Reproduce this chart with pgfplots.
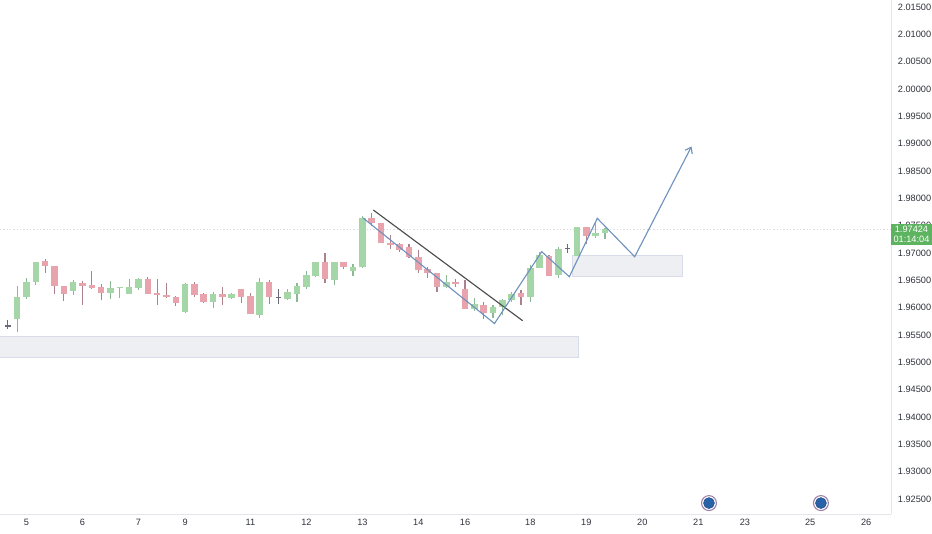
\documentclass[border=0pt]{standalone}
\usepackage{fontspec}
\setmainfont{Liberation Sans}
\usepackage{pgfplots}
\usepackage{pgfplotstable}
\usetikzlibrary{arrows.meta}
\pgfplotsset{compat=1.18}
\definecolor{bodyg}{HTML}{A5D6A7}
\definecolor{bodyr}{HTML}{E8A3AC}
\definecolor{wickg}{HTML}{8DB896}
\definecolor{wickr}{HTML}{A9828C}
\definecolor{wickd}{HTML}{6B6A78}
\definecolor{zonef}{HTML}{EEEFF3}
\definecolor{zoned}{HTML}{D8DCE8}
\definecolor{pathb}{HTML}{6F92BE}
\definecolor{axisl}{HTML}{E3E5EA}
\definecolor{ticktxt}{HTML}{2F323A}
\definecolor{tagg}{HTML}{5DB35F}
\definecolor{evf}{HTML}{2A62A8}
\definecolor{evd}{HTML}{1F4E8C}
\definecolor{evr}{HTML}{9A7FA8}
\pgfplotstableread{
x o h l c
-1 1.95792 1.96396 1.95554 1.96195
0 1.96195 1.96543 1.96158 1.96469
1 1.96469 1.96835 1.96414 1.96835
5 1.96305 1.96506 1.96231 1.96469
9 1.96268 1.96488 1.96158 1.96360
10 1.96360 1.96378 1.96177 1.96378
11 1.96250 1.96524 1.96250 1.96378
12 1.96360 1.96543 1.96323 1.96524
17 1.95920 1.96451 1.95902 1.96433
20 1.96103 1.96286 1.95994 1.96250
22 1.96177 1.96268 1.96158 1.96250
25 1.95865 1.96543 1.95811 1.96469
28 1.96158 1.96341 1.96140 1.96286
29 1.96250 1.96451 1.96103 1.96396
30 1.96378 1.96671 1.96341 1.96597
31 1.96579 1.96835 1.96561 1.96835
33 1.96506 1.96835 1.96414 1.96835
35 1.96671 1.96799 1.96579 1.96744
36 1.96744 1.97677 1.96726 1.97641
45 1.96378 1.96597 1.96360 1.96469
48 1.95975 1.96177 1.95939 1.96067
50 1.95902 1.96048 1.95811 1.96012
51 1.96012 1.96158 1.95865 1.96140
52 1.96140 1.96286 1.96103 1.96250
54 1.96195 1.96780 1.96103 1.96726
55 1.96726 1.97018 1.96726 1.96963
57 1.96597 1.97110 1.96543 1.97073
59 1.96945 1.97476 1.96945 1.97476
61 1.97311 1.97567 1.97275 1.97366
62 1.97366 1.97458 1.97256 1.97439
}\greentab
\pgfplotstableread{
x o h l c
2 1.96854 1.96890 1.96634 1.96762
3 1.96762 1.96762 1.96250 1.96396
4 1.96396 1.96396 1.96122 1.96250
6 1.96451 1.96488 1.96048 1.96396
7 1.96414 1.96671 1.96341 1.96360
8 1.96378 1.96433 1.96140 1.96268
13 1.96524 1.96561 1.96250 1.96250
14 1.96268 1.96524 1.96048 1.96231
15 1.96231 1.96451 1.96177 1.96195
16 1.96195 1.96213 1.96030 1.96085
18 1.96433 1.96469 1.96195 1.96231
19 1.96250 1.96268 1.96085 1.96103
21 1.96250 1.96378 1.96048 1.96195
23 1.96341 1.96341 1.96085 1.96195
24 1.96213 1.96268 1.95884 1.95884
26 1.96469 1.96506 1.96067 1.96195
32 1.96835 1.97000 1.96451 1.96524
34 1.96835 1.96835 1.96707 1.96744
37 1.97641 1.97732 1.97494 1.97549
38 1.97549 1.97549 1.97183 1.97183
39 1.97183 1.97329 1.97073 1.97146
40 1.97165 1.97183 1.97018 1.97055
41 1.97110 1.97165 1.96909 1.96927
42 1.96927 1.97055 1.96634 1.96689
43 1.96707 1.96744 1.96543 1.96634
44 1.96634 1.96634 1.96286 1.96378
46 1.96469 1.96524 1.96378 1.96433
47 1.96341 1.96506 1.95975 1.95975
49 1.96048 1.96103 1.95792 1.95902
53 1.96268 1.96323 1.96048 1.96195
56 1.96945 1.96963 1.96579 1.96579
60 1.97476 1.97476 1.97165 1.97311
}\redtab
\pgfplotstableread{
x o h l c
-2 1.95682 1.95774 1.95609 1.95646
27 1.96195 1.96341 1.96067 1.96177
58 1.97092 1.97165 1.97000 1.97073
}\dojitab
\begin{document}
\begin{tikzpicture}[x=1pt,y=1pt]
\useasboundingbox (0,0) rectangle (699,399.75);
\begin{axis}[
  at={(0pt,14.25pt)}, anchor=south west,
  scale only axis, width=668.25pt, height=385.5pt,
  xmin=-2.84, xmax=92.66, ymin=1.92225, ymax=2.01629,
  axis x line*=bottom, axis y line*=right,
  axis line style={draw=axisl, line width=0.75pt, -},
  tick style={draw=none},
  xtick={0,6,12,17,24,30,36,42,47,54,60,66,72,77,84,90},
  xticklabels={5,6,7,9,11,12,13,14,16,18,19,20,21,23,25,26},
  ytick={1.925,1.93,1.935,1.94,1.945,1.95,1.955,1.96,1.965,1.97,1.975,1.98,1.985,1.99,1.995,2.0,2.005,2.01,2.015},
  /pgf/number format/fixed,
  /pgf/number format/fixed zerofill,
  /pgf/number format/precision=5,
  /pgf/number format/assume math mode=true,
  ticklabel style={font=\fontsize{6.9pt}{8pt}\selectfont, text=ticktxt},
  yticklabel style={anchor=west, xshift=5pt, inner sep=0pt},
  xticklabel style={anchor=center, yshift=-6.5pt, inner sep=0pt},
]
% zones
\addplot[fill=zonef, draw=zoned, line width=0.5pt, forget plot] coordinates {(-3.5,1.95481) (59.2,1.95481) (59.2,1.95097) (-3.5,1.95097) (-3.5,1.95481)};
\addplot[fill=zonef, draw=zoned, line width=0.5pt, forget plot] coordinates {(58.5,1.96963) (70.25,1.96963) (70.25,1.96579) (58.5,1.96579) (58.5,1.96963)};
% last price line
\addplot[draw=black!14, line width=0.6pt, dash pattern=on 1pt off 1.5pt, forget plot] coordinates {(-2.84,1.97424) (92.66,1.97424)};
% wicks
\addplot[draw=none, mark=none, forget plot, error bars/.cd, y dir=both, y explicit, error mark=none, error bar style={draw=wickg, line width=0.85pt}]
  table[x=x, y=o, y error plus expr=\thisrow{h}-\thisrow{o}, y error minus expr=\thisrow{o}-\thisrow{l}] {\greentab};
\addplot[draw=none, mark=none, forget plot, error bars/.cd, y dir=both, y explicit, error mark=none, error bar style={draw=wickr, line width=0.85pt}]
  table[x=x, y=o, y error plus expr=\thisrow{h}-\thisrow{o}, y error minus expr=\thisrow{o}-\thisrow{l}] {\redtab};
\addplot[draw=none, mark=none, forget plot, error bars/.cd, y dir=both, y explicit, error mark=none, error bar style={draw=wickd, line width=0.7pt}]
  table[x=x, y=o, y error plus expr=\thisrow{h}-\thisrow{o}, y error minus expr=\thisrow{o}-\thisrow{l}] {\dojitab};
% bodies
\addplot[draw=none, mark=none, forget plot, error bars/.cd, y dir=plus, y explicit, error mark=none, error bar style={draw=bodyg, line width=4.9pt}]
  table[x=x, y=o, y error plus expr=\thisrow{c}-\thisrow{o}] {\greentab};
\addplot[draw=none, mark=none, forget plot, error bars/.cd, y dir=plus, y explicit, error mark=none, error bar style={draw=bodyr, line width=4.9pt}]
  table[x=x, y=c, y error plus expr=\thisrow{o}-\thisrow{c}] {\redtab};
\addplot[draw=none, mark=none, forget plot, error bars/.cd, y dir=plus, y explicit, error mark=none, error bar style={draw=wickd, line width=4pt}]
  table[x=x, y=c, y error plus expr=\thisrow{o}-\thisrow{c}] {\dojitab};
% drawings
\addplot[draw=black!70, line width=0.85pt, forget plot] coordinates {(37.17,1.97787) (53.18,1.95761)};
\addplot[draw=pathb, line width=0.85pt, -{Straight Barb[length=4pt,width=6pt]}, forget plot] coordinates {(36.07,1.97641) (50.16,1.95710) (55.22,1.97024) (58.18,1.96566) (61.18,1.97635) (65.19,1.96932) (71.28,1.98949)};
% event markers
\addplot[only marks, mark=*, mark size=5.6pt, mark options={fill=white, draw=evr, line width=0.8pt}, forget plot] coordinates {(73.15,1.92425) (85.15,1.92425)};
\addplot[only marks, mark=*, mark size=4.1pt, mark options={fill=evf, draw=evd}, forget plot] coordinates {(73.15,1.92425) (85.15,1.92425)};
\end{axis}
\fill[tagg] (668.25,216) rectangle (699,231.75);
\node[text=white, font=\fontsize{6.9pt}{7.8pt}\selectfont, align=center, inner sep=0pt] at (683.6,223.9) {1.97424\\01:14:04};
\end{tikzpicture}
\end{document}
